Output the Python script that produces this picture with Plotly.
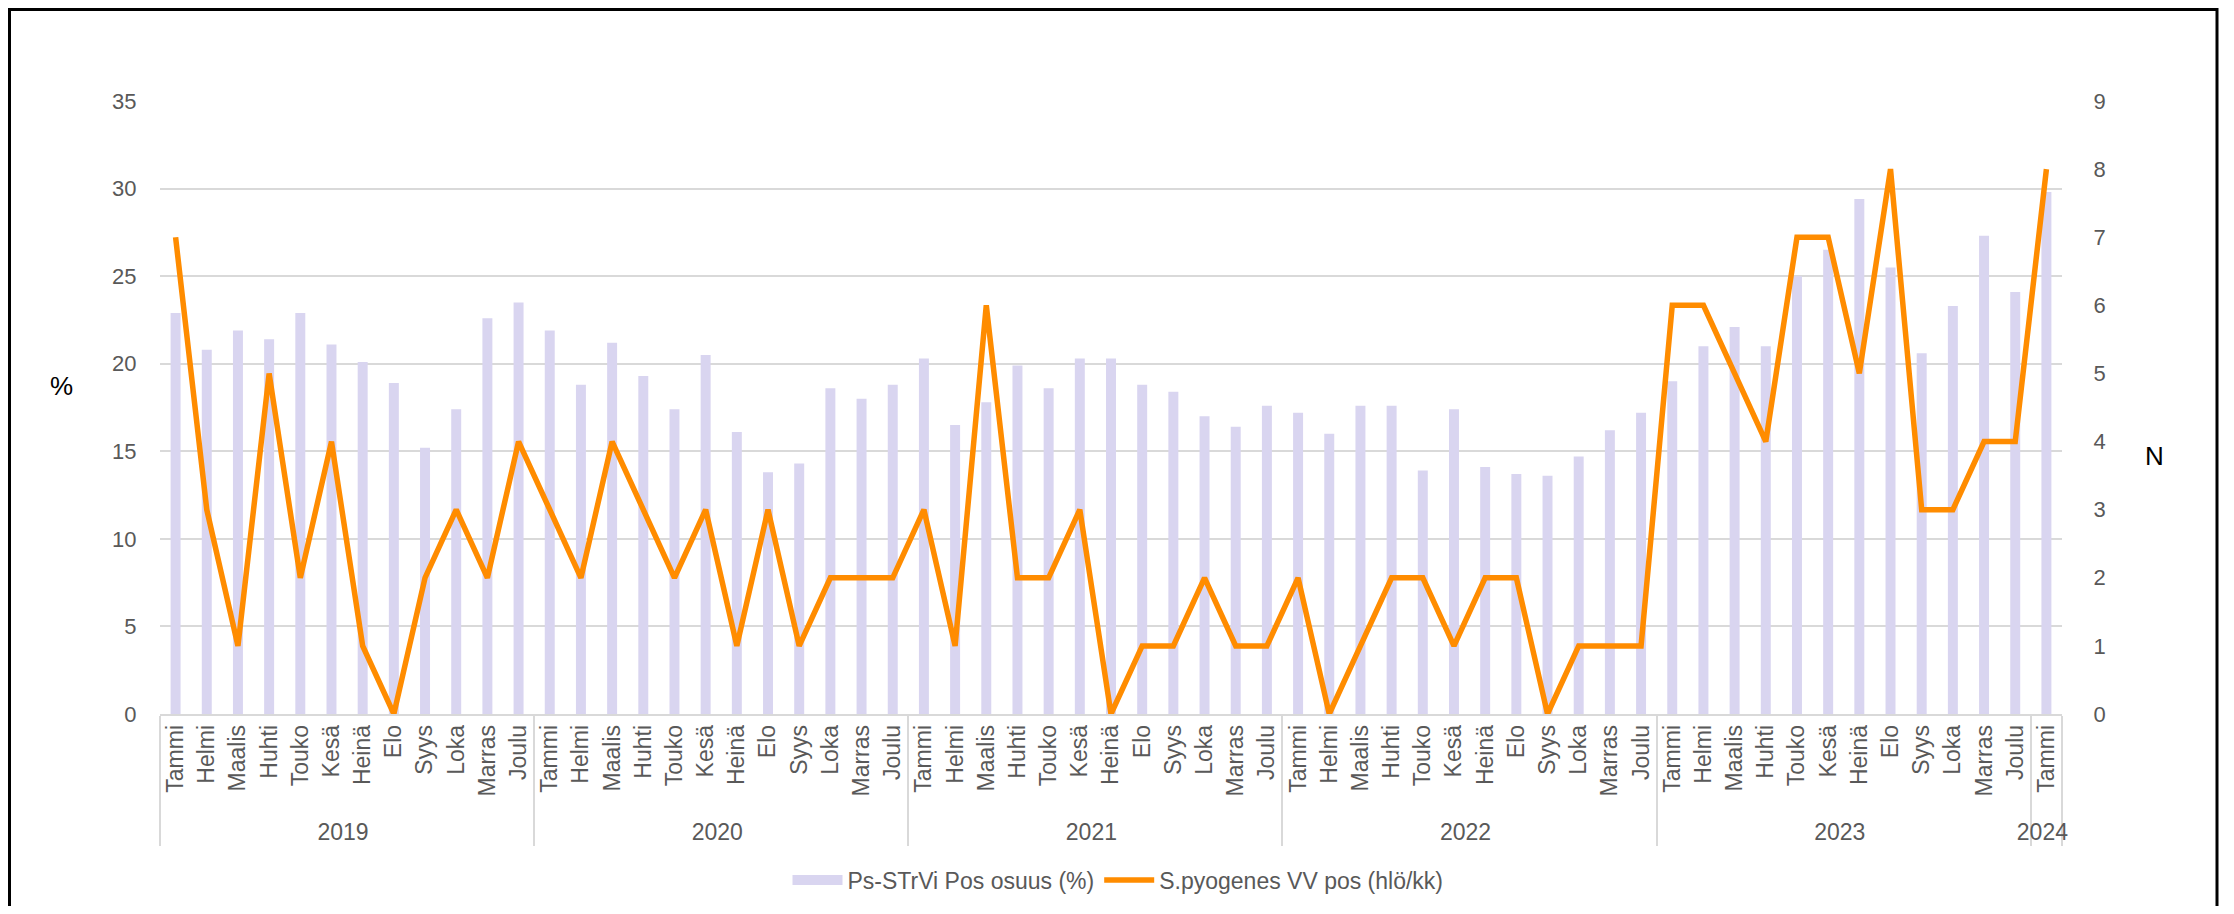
import plotly.graph_objects as go

months = ["Tammi", "Helmi", "Maalis", "Huhti", "Touko", "Kesä",
          "Heinä", "Elo", "Syys", "Loka", "Marras", "Joulu"]
years = ["2019", "2020", "2021", "2022", "2023", "2024"]

# x categories (year, month): Jan 2019 .. Jan 2024
cat_year = [y for y in years[:-1] for _ in months] + ["2024"]
cat_month = months * 5 + ["Tammi"]

# Ps-STrVi Pos osuus (%)
pos_share = [
    22.9, 20.8, 21.9, 21.4, 22.9, 21.1, 20.1, 18.9, 15.2, 17.4, 22.6, 23.5,
    21.9, 18.8, 21.2, 19.3, 17.4, 20.5, 16.1, 13.8, 14.3, 18.6, 18.0, 18.8,
    20.3, 16.5, 17.8, 19.9, 18.6, 20.3, 20.3, 18.8, 18.4, 17.0, 16.4, 17.6,
    17.2, 16.0, 17.6, 17.6, 13.9, 17.4, 14.1, 13.7, 13.6, 14.7, 16.2, 17.2,
    19.0, 21.0, 22.1, 21.0, 25.0, 26.5, 29.4, 25.5, 20.6, 23.3, 27.3, 24.1,
    29.8,
]

# S.pyogenes VV pos (hlö/kk)
spy_count = [
    7, 3, 1, 5, 2, 4, 1, 0, 2, 3, 2, 4,
    3, 2, 4, 3, 2, 3, 1, 3, 1, 2, 2, 2,
    3, 1, 6, 2, 2, 3, 0, 1, 1, 2, 1, 1,
    2, 0, 1, 2, 2, 1, 2, 2, 0, 1, 1, 1,
    6, 6, 5, 4, 7, 7, 5, 8, 3, 3, 4, 4,
    8,
]

left_ticks = [0, 5, 10, 15, 20, 25, 30, 35]
right_ticks = [0, 1, 2, 3, 4, 5, 6, 7, 8, 9]

BAR_COLOR = "#D9D5F0"
LINE_COLOR = "#FF8C00"

# page is 2234x914; the browser body adds an 8px margin around the figure
PAGE_W, PAGE_H, BODY = 2234, 914, 8
W, H = PAGE_W - 2 * BODY, PAGE_H - 2 * BODY

# plot area in page pixels
PLOT_L, PLOT_R, PLOT_T, PLOT_B = 160, 2062, 101, 714
ML = PLOT_L - BODY
MT = PLOT_T - BODY
MR = W - (PLOT_R - BODY)
MB = H - (PLOT_B - BODY)
pw = PLOT_R - PLOT_L
ph = PLOT_B - PLOT_T

FONT = "Liberation Sans, Arial, sans-serif"
TICK_COLOR = "#595959"


def px_x(px):
    return (px - PLOT_L) / pw


def px_y(py):
    return (PLOT_B - py) / ph


fig = go.Figure()
fig.add_trace(go.Bar(
    x=[cat_year, cat_month], y=pos_share,
    name="Ps-STrVi Pos osuus (%)",
    marker=dict(color=BAR_COLOR, line=dict(width=0)),
    showlegend=False,
))
# legend-only entry so the swatch is a wide rectangle like the original
fig.add_trace(go.Scatter(
    x=[None], y=[None], mode="lines",
    name="Ps-STrVi Pos osuus (%)",
    line=dict(color=BAR_COLOR, width=13),
    hoverinfo="skip",
))
fig.add_trace(go.Scatter(
    x=[cat_year, cat_month], y=spy_count,
    name="S.pyogenes VV pos (hlö/kk)",
    mode="lines", yaxis="y2",
    line=dict(color=LINE_COLOR, width=5.5),
))

fig.update_layout(
    width=W, height=H,
    margin=dict(l=ML, r=MR, t=MT, b=MB, autoexpand=False),
    paper_bgcolor="white", plot_bgcolor="white",
    font=dict(family=FONT, size=22, color=TICK_COLOR),
    bargap=0.68,
    showlegend=True,
    legend=dict(
        orientation="h", x=px_x(1118), xanchor="center",
        y=px_y(880), yanchor="middle",
        font=dict(size=23, color=TICK_COLOR),
        itemwidth=50,
    ),
    xaxis=dict(
        type="multicategory",
        automargin=False,
        tickangle=-90,
        tickfont=dict(size=23, color=TICK_COLOR, family=FONT),
        showline=True, linecolor="#D9D9D9", linewidth=1.5,
        showgrid=False, ticks="",
        showdividers=True, dividercolor="#D9D9D9", dividerwidth=1.5,
    ),
    yaxis=dict(
        range=[0, 35], tickvals=left_ticks,
        automargin=False,
        showgrid=True, gridcolor="#D9D9D9", gridwidth=1.5,
        zeroline=False, showline=False,
        ticks="outside", ticklen=18, tickcolor="rgba(0,0,0,0)",
        tickfont=dict(size=22, color=TICK_COLOR, family=FONT),
    ),
    yaxis2=dict(
        range=[0, 9], tickvals=right_ticks,
        automargin=False,
        overlaying="y", side="right",
        showgrid=False, zeroline=False, showline=False,
        ticks="outside", ticklen=26, tickcolor="rgba(0,0,0,0)",
        tickfont=dict(size=22, color=TICK_COLOR, family=FONT),
    ),
    annotations=[
        dict(text="%", xref="paper", yref="paper", x=px_x(61), y=px_y(386),
             xanchor="center", yanchor="middle",
             showarrow=False, font=dict(size=26, color="black", family=FONT)),
        dict(text="N", xref="paper", yref="paper", x=px_x(2154), y=px_y(456),
             xanchor="center", yanchor="middle",
             showarrow=False, font=dict(size=26, color="black", family=FONT)),
    ],
    shapes=[
        dict(type="rect", xref="paper", yref="paper",
             x0=px_x(BODY + 1.5), x1=px_x(2217), y0=px_y(PAGE_H + 20),
             y1=px_y(BODY + 1.5),
             line=dict(color="black", width=3), fillcolor="rgba(0,0,0,0)"),
    ],
)

fig.write_html("out.html")
